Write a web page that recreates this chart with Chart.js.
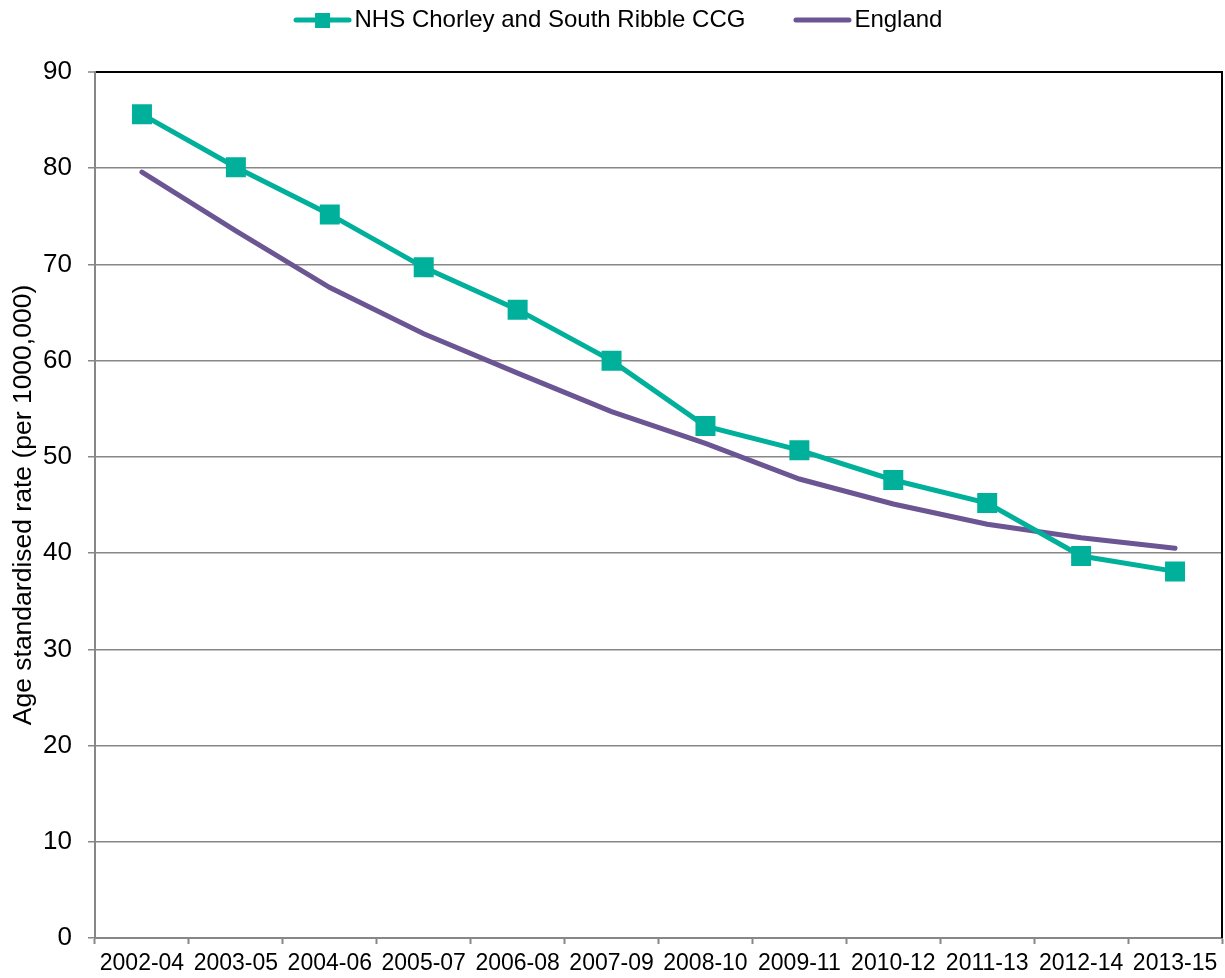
<!DOCTYPE html>
<html>
<head>
<meta charset="utf-8">
<script src="https://cdn.jsdelivr.net/npm/chart.js@4.4.1/dist/chart.umd.min.js"></script>
<style>
  html, body { margin: 0; padding: 0; background: #fff; }
  #wrap { width: 1225px; height: 978px; }
</style>
</head>
<body>
<div id="wrap"><canvas id="chart-rate"></canvas></div>
<script>
// Data
const periods = ["2002-04", "2003-05", "2004-06", "2005-07", "2006-08", "2007-09",
                 "2008-10", "2009-11", "2010-12", "2011-13", "2012-14", "2013-15"];
const ccgRates = [85.6, 80.1, 75.2, 69.7, 65.3, 60.0, 53.2, 50.7, 47.6, 45.2, 39.7, 38.1];
const englandRates = [79.6, 73.5, 67.6, 62.8, 58.7, 54.7, 51.4, 47.7, 45.1, 43.0, 41.6, 40.5];
const yTicks = [0, 10, 20, 30, 40, 50, 60, 70, 80, 90];

const teal = "#00b09b";
const purple = "#6b5592";
const axisGrey = "#878787";

// legend symbols (line, plus a square for the CCG series)
function legendSymbol(color, withMarker) {
    const c = document.createElement("canvas");
    c.width = 80;
    c.height = 18;
    const g = c.getContext("2d");
    g.strokeStyle = color;
    g.lineWidth = 5;
    g.lineCap = "round";
    g.beginPath();
    g.moveTo(23, 9);
    g.lineTo(76, 9);
    g.stroke();
    if (withMarker) {
        g.fillStyle = color;
        g.fillRect(42, 2, 15, 15);
    }
    return c;
}
const ccgSymbol = legendSymbol(teal, true);
const englandSymbol = legendSymbol(purple, false);

// black frame on the right edge of the plot
const rightFrame = {
    id: "rightFrame",
    afterDraw(chart) {
        const a = chart.chartArea;
        const ctx = chart.ctx;
        ctx.save();
        ctx.strokeStyle = "#000";
        ctx.lineWidth = 2;
        ctx.beginPath();
        ctx.moveTo(a.right, a.top - 1);
        ctx.lineTo(a.right, a.bottom);
        ctx.stroke();
        ctx.restore();
    },
};

Chart.defaults.font.family = "'Liberation Sans', Arial, sans-serif";
Chart.defaults.color = "#000";

const rate = document.getElementById("chart-rate");

new Chart(rate, {
    type: "line",
    data: {
        labels: periods,
        datasets: [
            {
                label: "NHS Chorley and South Ribble CCG",
                data: ccgRates,
                borderColor: teal,
                backgroundColor: teal,
                borderWidth: 5,
                pointStyle: "rect",
                pointRadius: 10.6,
                pointHoverRadius: 10.6,
                tension: 0,
            },
            {
                label: "England",
                data: englandRates,
                borderColor: purple,
                backgroundColor: purple,
                borderWidth: 5,
                borderCapStyle: "round",
                pointRadius: 0,
                tension: 0,
            },
        ],
    },
    options: {
        responsive: true,
        maintainAspectRatio: false,
        animation: false,
        layout: {
            autoPadding: false,
            padding: { left: 4, right: 3, top: -30, bottom: 0 },
        },
        scales: {
            x: {
                offset: true,
                afterFit(scale) {
                    scale.paddingLeft = 0;
                    scale.paddingRight = 0;
                    scale.height = 40;
                },
                border: { color: axisGrey, width: 2 },
                grid: {
                    offset: true,
                    drawOnChartArea: false,
                    tickColor: axisGrey,
                    tickWidth: 2,
                    tickLength: 6,
                },
                ticks: {
                    font: { size: 23 },
                    maxRotation: 0,
                    autoSkip: false,
                    padding: 6,
                },
            },
            y: {
                min: 0,
                max: 90,
                afterBuildTicks(scale) {
                    scale.ticks = yTicks.map((v) => ({ value: v }));
                },
                afterFit(scale) {
                    scale.width = 91;
                },
                border: { color: axisGrey, width: 2 },
                grid: {
                    color: (ctx) => (ctx.tick && ctx.tick.value === 90 ? "#000" : axisGrey),
                    lineWidth: (ctx) => (ctx.tick && ctx.tick.value === 90 ? 2 : 1.5),
                    tickColor: axisGrey,
                    tickWidth: 1.5,
                    tickLength: 7,
                },
                ticks: {
                    font: { size: 26 },
                    padding: 16,
                },
                title: {
                    display: true,
                    text: "Age standardised rate (per 1000,000)",
                    font: { size: 26.5 },
                    padding: { top: 4, bottom: 4 },
                },
            },
        },
        plugins: {
            legend: {
                position: "top",
                weight: 3000,
                labels: {
                    font: { size: 24 },
                    color: "#000",
                    usePointStyle: true,
                    pointStyleWidth: 59,
                    padding: 38,
                    generateLabels(chart) {
                        return chart.data.datasets.map((ds, i) => ({
                            text: ds.label,
                            datasetIndex: i,
                            pointStyle: i === 0 ? ccgSymbol : englandSymbol,
                            fillStyle: ds.borderColor,
                            strokeStyle: ds.borderColor,
                            lineWidth: 0,
                            fontColor: "#000",
                            hidden: false,
                        }));
                    },
                },
            },
            // empty title used as a spacer between legend and plot
            title: {
                display: true,
                text: "",
                font: { size: 25, lineHeight: 1.2 },
                padding: 0,
            },
            tooltip: { enabled: false },
        },
    },
    plugins: [rightFrame],
});
</script>
</body>
</html>
